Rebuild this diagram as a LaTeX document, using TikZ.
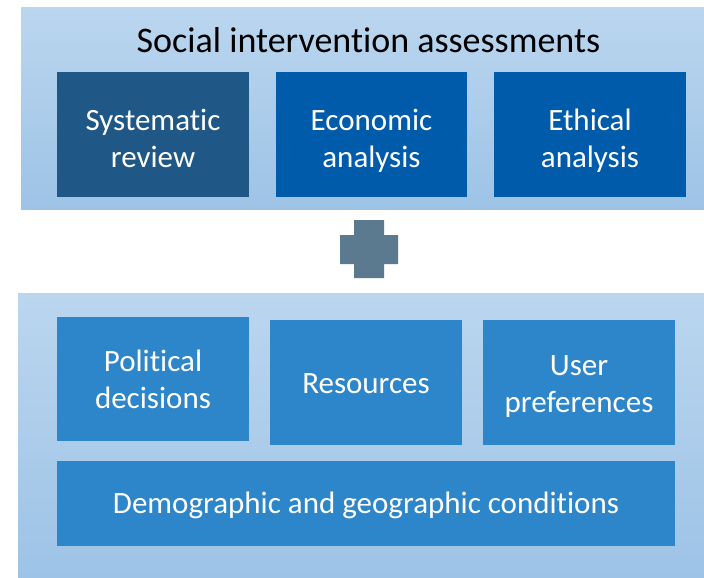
\documentclass[tikz,border=0pt]{standalone}
\usepackage{fontspec}
\setmainfont{Carlito}[Ligatures=NoCommon]
\definecolor{paneltop}{HTML}{BBD6EF}
\definecolor{panelbot}{HTML}{9DC3E6}
\definecolor{darkbox}{HTML}{1F5886}
\definecolor{midbox}{HTML}{005BAA}
\definecolor{lightbox}{HTML}{2E86CA}
\definecolor{plusc}{HTML}{5B7A8F}
\tikzset{
  panel/.style={top color=paneltop,bottom color=panelbot,draw=none,inner sep=0pt},
  boxr/.style={draw=none,inner sep=0pt},
  btext/.style={inner sep=0pt,anchor=base,text=white,align=center,font=\fontsize{31}{37.5}\selectfont},
}
\begin{document}
\begin{tikzpicture}[x=1pt,y=-1pt]
\useasboundingbox[fill=white] (0,0) rectangle (704,578);
% top panel
\node[panel,minimum width=683pt,minimum height=201pt] (top) at (362.5,108.5) {};
\node[font=\fontsize{36}{42}\selectfont,text=black,inner sep=0pt,anchor=base] (title) at (368.5,53) {Social intervention assessments};
\node[boxr,fill=darkbox,minimum width=192pt,minimum height=125pt] (sys) at (153,134.5) {};
\node[boxr,fill=midbox,minimum width=191pt,minimum height=125pt] (eco) at (371.5,134.5) {};
\node[boxr,fill=midbox,minimum width=192pt,minimum height=125pt] (eth) at (590,134.5) {};
\node[btext] (sysT) at (153,167.5) {Systematic\\review};
\node[btext] (ecoT) at (371.5,167.5) {Economic\\analysis};
\node[btext] (ethT) at (590,167.5) {Ethical\\analysis};
% plus
\fill[plusc] (354,220) -- (384,220) -- (384,235) -- (398,235) -- (398,264) -- (384,264) -- (384,278) -- (354,278) -- (354,264) -- (340,264) -- (340,235) -- (354,235) -- cycle;
\coordinate (plus) at (369,249);
% bottom panel
\node[panel,minimum width=686pt,minimum height=285pt] (bot) at (361,435.5) {};
\node[boxr,fill=lightbox,minimum width=192pt,minimum height=124pt] (pol) at (153,379) {};
\node[boxr,fill=lightbox,minimum width=192pt,minimum height=125pt] (res) at (366,382.5) {};
\node[boxr,fill=lightbox,minimum width=192pt,minimum height=125pt] (usr) at (579,382.5) {};
\node[boxr,fill=lightbox,minimum width=618pt,minimum height=85pt] (dem) at (366,503.5) {};
\node[btext] (polT) at (153,408.5) {Political\\decisions};
\node[btext] (resT) at (366,393) {Resources};
\node[btext] (usrT) at (579,412.5) {User\\preferences};
\node[btext] (demT) at (366,513) {Demographic and geographic conditions};
\end{tikzpicture}
\end{document}
